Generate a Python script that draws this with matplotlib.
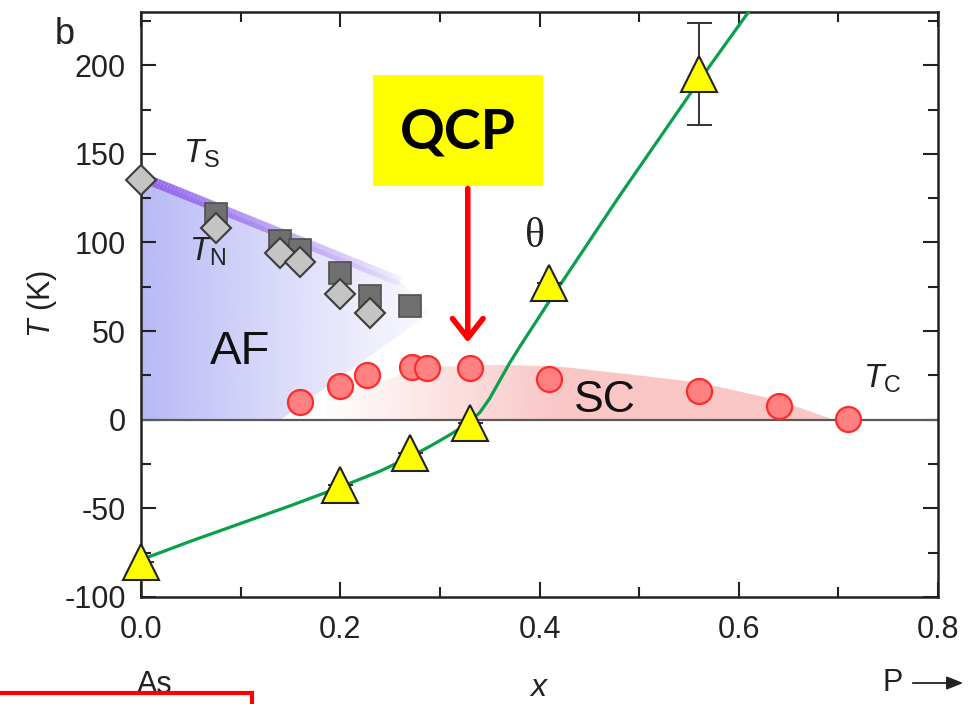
import numpy as np
import matplotlib
matplotlib.use("Agg")
import matplotlib.pyplot as plt
from matplotlib.patches import Polygon, Rectangle, FancyArrowPatch
from matplotlib.collections import LineCollection

plt.rcParams['font.family'] = ['Liberation Sans', 'DejaVu Sans']
plt.rcParams['mathtext.fontset'] = 'custom'
plt.rcParams['mathtext.rm'] = 'Liberation Sans'
plt.rcParams['mathtext.it'] = 'Liberation Sans:italic'
plt.rcParams['axes.unicode_minus'] = False

# phase diagram data: BaFe2(As1-xPx)2
x_ts = [0.075, 0.14, 0.16, 0.20, 0.23, 0.27]
t_ts = [116, 101, 96, 83, 70, 64]
x_tn = [0.0, 0.075, 0.14, 0.16, 0.20, 0.23]
t_tn = [135, 108, 94, 89, 71, 60]
x_tc = [0.16, 0.20, 0.227, 0.272, 0.287, 0.33, 0.41, 0.56, 0.64, 0.71]
t_tc = [10, 19, 25.5, 29.5, 29, 29, 23, 16, 8, 0.5]
x_theta = [0.0, 0.20, 0.27, 0.33, 0.41, 0.56]
t_theta = [-80, -37, -19, -2, 77, 195]
theta_err_lo = [0, 0, 0, 0, 0, 29]
theta_err_hi = [0, 0, 0, 0, 0, 29]

# guide curve for theta
x_fit = [0.0, 0.05, 0.10, 0.15, 0.20, 0.24, 0.27, 0.29, 0.31, 0.32, 0.33, 0.34, 0.35,
         0.36, 0.37, 0.38, 0.41, 0.48, 0.56, 0.62]
t_fit = [-79, -68.5, -58.5, -48.5, -38, -29, -21, -15, -8.5, -5, -1, 4, 12,
         22, 32, 41, 67, 126, 191, 238]

# structural transition guide (purple band)
x_ts_line = [0.0, 0.26]
t_ts_line = [137, 78]

# region outlines
af_x = [0.0, 0.0, 0.26, 0.29, 0.14]
af_t = [0.0, 137, 78, 60, 0.0]
sc_x = [0.14, 0.20, 0.26, 0.30, 0.36, 0.42, 0.50, 0.56, 0.64, 0.695]
sc_t = [0.0, 14, 25, 30, 31, 30, 25, 21, 11, 0.0]

fig = plt.figure(figsize=(9.69, 7.04), dpi=100)
ax = fig.add_axes([141/969, 107/704, 797/969, 585/704])

# AF region: lavender fading to white
gx, gy = np.meshgrid(np.linspace(0, 0.35, 300), np.linspace(0, 140, 200))
a = 0.85 * np.clip(1 - gx / 0.33, 0, 1) ** 1.2
img = np.zeros(gx.shape + (4,))
img[..., 0] = 172 / 255
img[..., 1] = 172 / 255
img[..., 2] = 245 / 255
img[..., 3] = a
im = ax.imshow(img, extent=[0, 0.35, 0, 140], origin='lower', aspect='auto', zorder=1)
af_poly = Polygon(list(zip(af_x, af_t)), closed=True, facecolor='none', edgecolor='none')
ax.add_patch(af_poly)
im.set_clip_path(af_poly)

# SC dome: pink growing to the right
gx2, gy2 = np.meshgrid(np.linspace(0.1, 0.75, 300), np.linspace(0, 35, 50))
a2 = np.clip((gx2 - 0.18) / 0.24, 0, 1)
img2 = np.zeros(gx2.shape + (4,))
img2[..., 0] = 250 / 255
img2[..., 1] = 198 / 255
img2[..., 2] = 198 / 255
img2[..., 3] = a2
im2 = ax.imshow(img2, extent=[0.1, 0.75, 0, 35], origin='lower', aspect='auto', zorder=1.1)
sc_poly = Polygon(list(zip(sc_x, sc_t)), closed=True, facecolor='none', edgecolor='none')
ax.add_patch(sc_poly)
im2.set_clip_path(sc_poly)

ax.set_xlim(0, 0.8)
ax.set_ylim(-100, 230)

# zero line
ax.axhline(0, color='#5a5a5a', lw=1.6, zorder=2)

# purple Ts band with fading
xs = np.linspace(x_ts_line[0], x_ts_line[1], 80)
ts = np.interp(xs, x_ts_line, t_ts_line)
segs = [[(xs[i], ts[i]), (xs[i + 1], ts[i + 1])] for i in range(len(xs) - 1)]
alphas = np.linspace(0.95, 0.05, len(segs)) ** 0.8
cols = [(0.56, 0.38, 0.92, al) for al in alphas]
ax.add_collection(LineCollection(segs, colors=cols, linewidths=7, zorder=2.5, capstyle='butt'))

# theta curve
ax.plot(x_fit, t_fit, color='#0aa04a', lw=2.3, zorder=3)

ax.plot(x_ts, t_ts, 's', ms=16, mfc='#707070', mec='#505050', mew=1.2, zorder=4, clip_on=False)
ax.plot(x_tn, t_tn, 'D', ms=15, mfc='#c4c4c4', mec='#3c3c3c', mew=1.5, zorder=5, clip_on=False)
ax.plot(x_tc, t_tc, 'o', ms=18, mfc='#ff8080', mec='#ff2a2a', mew=1.6, zorder=5, clip_on=False)

ax.errorbar(x_theta, t_theta, yerr=[theta_err_lo, theta_err_hi], fmt='none',
            ecolor='#333333', elinewidth=1.4, capsize=9, capthick=1.4, zorder=5)
ax.plot(x_theta, t_theta, '^', ms=26, mfc='#ffff00', mec='#222222', mew=1.5, zorder=6, clip_on=False)

# axes styling
ax.set_xticks([0.0, 0.2, 0.4, 0.6, 0.8])
ax.set_xticks([0.1, 0.3, 0.5, 0.7], minor=True)
ax.set_yticks([-100, -50, 0, 50, 100, 150, 200])
ax.set_yticks([-75, -25, 25, 75, 125, 175, 225], minor=True)
ax.set_xticklabels(['0.0', '0.2', '0.4', '0.6', '0.8'])
ax.tick_params(which='both', direction='in', top=True, right=True, color='#222222')
ax.tick_params(which='major', length=11, width=1.5, labelsize=22, colors='#222222')
ax.tick_params(which='minor', length=7, width=1.5)
ax.tick_params(axis='x', which='major', pad=13)
ax.tick_params(axis='y', which='major', pad=11)
for s in ax.spines.values():
    s.set_linewidth(1.8)
    s.set_color('#222222')

ax.set_ylabel(r'$T$ (K)', fontsize=22, color='#222222', labelpad=4)

# annotations
ax.text(0.042, 150, r'$T_{\rm S}$', fontsize=24, color='#222222', va='center')
ax.text(0.048, 95, r'$T_{\rm N}$', fontsize=24, color='#222222', va='center')
ax.text(0.099, 38, 'AF', fontsize=34, color='#111111', ha='center', va='center')
ax.text(0.466, 11, 'SC', fontsize=32, color='#111111', ha='center', va='center')
ax.text(0.395, 103, 'θ', fontsize=30, family=['Liberation Serif', 'DejaVu Serif'], color='#222222',
        ha='center', va='center')
ax.text(0.725, 23, r'$T_{\rm C}$', fontsize=24, color='#222222', va='center')

# QCP marker
ax.add_patch(Rectangle((0.2328, 132), 0.1706, 62.3, facecolor='#ffff00', edgecolor='none',
                       zorder=7, clip_on=False))
ax.text(0.318, 162, 'QCP', fontsize=40, fontweight='bold', family=['Lato', 'DejaVu Sans'],
        ha='center', va='center', zorder=8)
ax.add_patch(FancyArrowPatch((0.328, 132), (0.328, 42), arrowstyle='->,head_length=14,head_width=11',
                             mutation_scale=1, color='#ff0000', lw=4, zorder=8))

fig.text(65/969, 1 - 35/704, 'b', fontsize=26, color='#222222', ha='center', va='center')
fig.text(538/969, 1 - 688/704, 'x', fontsize=23, style='italic', color='#222222',
         ha='center', va='center')
fig.text(155/969, 1 - 685/704, 'As', fontsize=22, color='#222222', ha='center', va='center')
fig.text(893/969, 1 - 683/704, 'P', fontsize=22, color='#222222', ha='center', va='center')
fig.add_artist(FancyArrowPatch((910/969, 1 - 683/704), (966/969, 1 - 683/704),
                               transform=fig.transFigure, arrowstyle='-|>,head_length=10,head_width=4',
                               mutation_scale=1, color='#222222', lw=1.3))

# red frame at the bottom left
fig.add_artist(Rectangle((-0.01, -0.05), 0.27, 0.066, transform=fig.transFigure,
                         facecolor='white', edgecolor='#ff0000', lw=3, zorder=10))

fig.savefig('out.png', dpi=100)
